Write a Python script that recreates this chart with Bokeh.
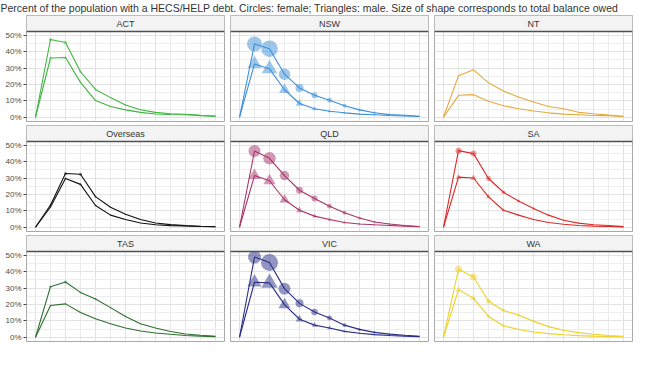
import math
from bokeh.plotting import figure
from bokeh.layouts import column, gridplot
from bokeh.models import (FixedTicker, BoxAnnotation, Span, Label, Grid,
                          PrintfTickFormatter, Range1d, ColumnDataSource)
from bokeh.embed import file_html
from bokeh.resources import INLINE

TITLE = ("Percent of the population with a HECS/HELP debt. Circles: female; "
         "Triangles: male. Size of shape corresponds to total balance owed")

AGE_GROUPS = ["Under 16", "16-20", "21-25", "26-30", "31-35", "36-40", "41-45",
              "46-50", "51-55", "56-60", "61-65", "66-70", "Over 70"]

STATES = ["ACT", "NSW", "NT", "Overseas", "QLD", "SA", "TAS", "VIC", "WA"]
COLORS = ["#3fb63f", "#3b8fd8", "#e6a93c", "#111111", "#a8346a",
          "#dc2a2a", "#2e6f2e", "#2a2e85", "#ecd228"]

Y_TICKS = [0, 10, 20, 30, 40, 50]
Y_MINOR = [5, 15, 25, 35, 45]

# percent of population with a debt, by age group
ACT_F = [0, 47.5, 45.7, 27.8, 17.0, 12.0, 7.5, 4.6, 3.0, 2.1, 1.8, 1.2, 0.7]
ACT_M = [0, 36.2, 36.5, 21.3, 10.2, 6.6, 4.5, 3.0, 2.0, 1.7, 1.5, 1.0, 0.6]
NSW_F = [0, 44.8, 41.9, 26.3, 17.9, 13.4, 10.4, 7.0, 4.5, 2.7, 1.6, 1.2, 0.6]
NSW_M = [0, 32.6, 29.6, 16.8, 8.4, 5.2, 3.7, 2.7, 1.9, 1.5, 1.1, 0.8, 0.5]
NT_F = [0, 25.4, 29.0, 21.0, 16.0, 12.4, 9.3, 6.6, 5.2, 3.0, 2.1, 1.3, 0.6]
NT_M = [0, 13.4, 13.8, 9.8, 7.0, 5.2, 3.8, 2.7, 1.9, 1.5, 1.1, 1.0, 0.5]
OVS_F = [0, 13.6, 32.8, 32.4, 18.7, 12.2, 7.9, 4.7, 2.6, 1.6, 1.0, 0.6, 0.3]
OVS_M = [0, 12.4, 29.8, 26.2, 13.3, 7.4, 4.7, 2.6, 1.5, 1.0, 0.8, 0.5, 0.3]
QLD_F = [0, 46.6, 42.1, 31.6, 22.6, 17.6, 12.9, 8.8, 5.6, 3.2, 2.0, 1.1, 0.5]
QLD_M = [0, 31.6, 28.4, 16.8, 10.4, 6.8, 4.7, 2.9, 2.0, 1.5, 1.1, 0.7, 0.3]
SA_F = [0, 46.8, 45.0, 29.8, 21.4, 16.0, 11.5, 7.4, 4.3, 2.5, 1.5, 1.1, 0.4]
SA_M = [0, 30.6, 30.1, 18.6, 10.4, 7.4, 4.7, 2.9, 1.8, 1.1, 0.7, 0.5, 0.2]
TAS_F = [0, 30.9, 33.8, 27.4, 23.4, 18.1, 12.7, 8.3, 5.6, 3.5, 2.0, 1.2, 0.6]
TAS_M = [0, 19.4, 20.4, 15.1, 11.3, 8.3, 5.6, 3.8, 2.6, 1.8, 1.1, 0.7, 0.4]
VIC_F = [0, 49.0, 45.7, 29.7, 20.7, 15.4, 11.7, 7.4, 4.8, 3.0, 1.9, 1.2, 0.6]
VIC_M = [0, 33.6, 33.2, 19.9, 11.0, 7.4, 5.6, 3.6, 2.4, 1.6, 1.1, 0.7, 0.4]
WA_F = [0, 41.6, 36.8, 22.0, 16.3, 13.6, 9.7, 6.5, 4.3, 2.8, 1.8, 1.1, 0.6]
WA_M = [0, 29.1, 23.8, 12.7, 7.0, 4.7, 3.2, 2.2, 1.5, 1.0, 0.7, 0.5, 0.3]

# total balance owed ($bn), by age group
ACT_F_BAL = [0, 0.16, 0.16, 0.11, 0.07, 0.04, 0.04, 0.02, 0.02, 0.02, 0.01, 0.01, 0.01]
ACT_M_BAL = [0, 0.14, 0.15, 0.09, 0.05, 0.03, 0.02, 0.02, 0.01, 0.01, 0.01, 0.01, 0.005]
NSW_F_BAL = [0, 4.0, 4.84, 2.35, 1.14, 0.64, 0.44, 0.28, 0.16, 0.11, 0.07, 0.04, 0.02]
NSW_M_BAL = [0, 3.0, 3.5, 1.8, 0.87, 0.36, 0.22, 0.14, 0.09, 0.06, 0.04, 0.02, 0.01]
NT_F_BAL = [0, 0.03, 0.04, 0.03, 0.02, 0.015, 0.01, 0.008, 0.005, 0.003, 0.002, 0.001, 0.001]
NT_M_BAL = [0, 0.015, 0.02, 0.015, 0.01, 0.008, 0.005, 0.004, 0.003, 0.002, 0.001, 0.001, 0.0005]
OVS_F_BAL = [0, 0.07, 0.16, 0.16, 0.07, 0.04, 0.02, 0.01, 0.005, 0.003, 0.002, 0.001, 0.001]
OVS_M_BAL = [0, 0.06, 0.14, 0.13, 0.06, 0.03, 0.015, 0.008, 0.004, 0.002, 0.001, 0.001, 0.0005]
QLD_F_BAL = [0, 2.56, 2.78, 1.6, 0.87, 0.64, 0.44, 0.28, 0.16, 0.11, 0.07, 0.04, 0.02]
QLD_M_BAL = [0, 2.15, 2.15, 1.44, 0.64, 0.28, 0.22, 0.16, 0.11, 0.07, 0.04, 0.02, 0.01]
SA_F_BAL = [0, 0.64, 0.64, 0.44, 0.22, 0.16, 0.11, 0.07, 0.04, 0.02, 0.02, 0.005, 0.005]
SA_M_BAL = [0, 0.44, 0.54, 0.36, 0.16, 0.11, 0.07, 0.04, 0.02, 0.02, 0.005, 0.005, 0.005]
TAS_F_BAL = [0, 0.11, 0.16, 0.07, 0.07, 0.04, 0.04, 0.02, 0.02, 0.005, 0.005, 0.003, 0.002]
TAS_M_BAL = [0, 0.07, 0.09, 0.05, 0.04, 0.03, 0.02, 0.01, 0.008, 0.005, 0.003, 0.002, 0.001]
VIC_F_BAL = [0, 3.0, 5.14, 2.56, 1.14, 0.75, 0.44, 0.28, 0.16, 0.11, 0.07, 0.04, 0.02]
VIC_M_BAL = [0, 3.0, 4.0, 2.15, 0.87, 0.44, 0.28, 0.16, 0.11, 0.07, 0.04, 0.02, 0.01]
WA_F_BAL = [0, 0.87, 0.75, 0.44, 0.22, 0.16, 0.11, 0.07, 0.04, 0.02, 0.02, 0.005, 0.005]
WA_M_BAL = [0, 0.54, 0.54, 0.28, 0.16, 0.07, 0.04, 0.02, 0.02, 0.005, 0.005, 0.005, 0.005]

SERIES = {
    "ACT": (ACT_F, ACT_M, ACT_F_BAL, ACT_M_BAL),
    "NSW": (NSW_F, NSW_M, NSW_F_BAL, NSW_M_BAL),
    "NT": (NT_F, NT_M, NT_F_BAL, NT_M_BAL),
    "Overseas": (OVS_F, OVS_M, OVS_F_BAL, OVS_M_BAL),
    "QLD": (QLD_F, QLD_M, QLD_F_BAL, QLD_M_BAL),
    "SA": (SA_F, SA_M, SA_F_BAL, SA_M_BAL),
    "TAS": (TAS_F, TAS_M, TAS_F_BAL, TAS_M_BAL),
    "VIC": (VIC_F, VIC_M, VIC_F_BAL, VIC_M_BAL),
    "WA": (WA_F, WA_M, WA_F_BAL, WA_M_BAL),
}

FONT = "Liberation Sans"
SIZE_SCALE = 7.5

n = len(AGE_GROUPS)
X = list(range(n))
X_START, X_END = -0.6, n - 1 + 0.6
Y_BOTTOM, Y_TOP = -2.6, 52.4
PANEL_PX, STRIP_PX = 90, 16
Y_END = Y_TOP + (Y_TOP - Y_BOTTOM) * STRIP_PX / PANEL_PX

PANEL_W = 198
LEFT_AX = 26
GAP = 6
ROW_H = PANEL_PX + STRIP_PX + 4


def make_panel(idx, state):
    col = idx % 3
    color = COLORS[idx]
    f, m, fb, mb = SERIES[state]
    left_border = LEFT_AX if col == 0 else 0
    right_border = GAP if col < 2 else 2
    p = figure(width=left_border + PANEL_W + right_border, height=ROW_H,
               x_range=Range1d(X_START, X_END), y_range=Range1d(Y_BOTTOM, Y_END),
               x_axis_location=None,
               y_axis_location="left" if col == 0 else None,
               toolbar_location=None, output_backend="svg",
               min_border_left=left_border, min_border_right=right_border,
               min_border_top=0, min_border_bottom=4)
    p.center = []
    p.add_layout(Grid(dimension=0, ticker=FixedTicker(ticks=X[::2], minor_ticks=X[1::2]),
                      grid_line_color="#e2e2e2", minor_grid_line_color="#eaeaea"))
    p.add_layout(Grid(dimension=1, ticker=FixedTicker(ticks=Y_TICKS, minor_ticks=Y_MINOR),
                      grid_line_color="#e2e2e2", minor_grid_line_color="#eeeeee"))
    p.outline_line_color = "#a8a8a8"
    p.outline_line_width = 1
    p.background_fill_color = "white"
    p.border_fill_color = "white"
    if col == 0:
        ax = p.yaxis[0]
        ax.ticker = FixedTicker(ticks=Y_TICKS)
        ax.formatter = PrintfTickFormatter(format="%d%%")
        ax.axis_line_color = None
        ax.major_tick_line_color = "#444444"
        ax.major_tick_out = 3
        ax.major_tick_in = 0
        ax.minor_tick_line_color = None
        ax.major_label_text_font = FONT
        ax.major_label_text_font_size = "8px"
        ax.major_label_text_color = "#4d4d4d"
        ax.major_label_standoff = 2

    src_f = ColumnDataSource(dict(x=X, y=f, s=[SIZE_SCALE * math.sqrt(b) for b in fb]))
    src_m = ColumnDataSource(dict(x=X, y=m, s=[SIZE_SCALE * 1.1 * math.sqrt(b) for b in mb]))
    p.line("x", "y", source=src_f, line_color=color, line_width=1.1)
    p.line("x", "y", source=src_m, line_color=color, line_width=1.1)
    p.scatter("x", "y", size="s", source=src_f, marker="circle",
              fill_color=color, fill_alpha=0.5, line_color=None)
    p.scatter("x", "y", size="s", source=src_m, marker="triangle",
              fill_color=color, fill_alpha=0.5, line_color=None)

    # facet strip
    p.add_layout(BoxAnnotation(bottom=Y_TOP, fill_color="#f3f3f3", fill_alpha=1,
                               line_color=None))
    p.add_layout(Span(location=Y_TOP, dimension="width", line_color="#505050",
                      line_width=1.3))
    p.add_layout(Label(x=(X_START + X_END) / 2, y=(Y_TOP + Y_END) / 2, text=state,
                       text_align="center", text_baseline="middle",
                       text_font=FONT, text_font_size="9px", text_color="#333333"))
    return p


panels = [make_panel(i, s) for i, s in enumerate(STATES)]
grid = gridplot([panels[0:3], panels[3:6], panels[6:9]], toolbar_location=None)

title_fig = figure(width=634, height=15, x_range=Range1d(0, 1), y_range=Range1d(0, 1),
                   x_axis_location=None, y_axis_location=None,
                   toolbar_location=None, output_backend="svg", min_border=0)
title_fig.center = []
title_fig.outline_line_color = None
title_fig.add_layout(Label(x=0, y=0.5, text=TITLE, text_align="left",
                           text_baseline="middle", text_font=FONT,
                           text_font_size="10.5px", text_color="#333333"))

layout = column(title_fig, grid)
open("out.html", "w").write(file_html(layout, INLINE))
